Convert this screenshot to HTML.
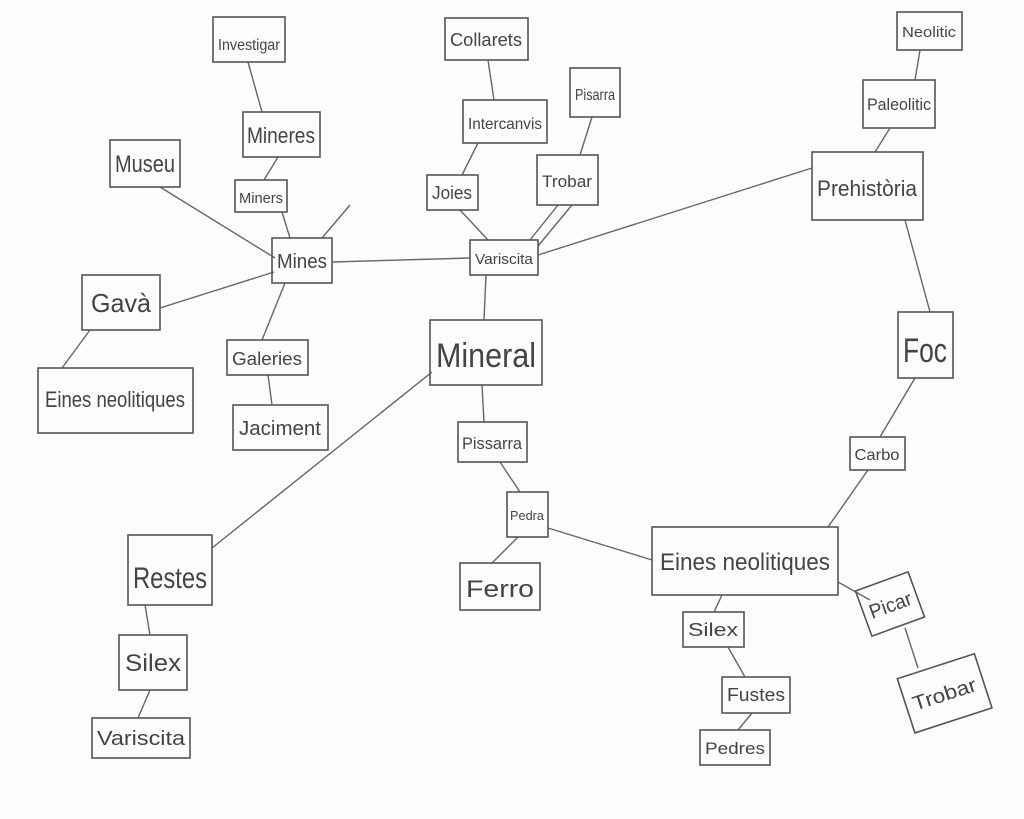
<!DOCTYPE html>
<html><head><meta charset="utf-8"><style>
html,body{margin:0;padding:0;background:#fff;}
svg{display:block;}
text{font-family:"Liberation Sans Narrow","Liberation Sans",sans-serif;fill:#444;}
rect{fill:none;stroke:#555;stroke-width:1.6;}
line{stroke:#666;stroke-width:1.4;}
</style></head><body>
<svg width="1024" height="819" viewBox="0 0 1024 819">
<rect x="0" y="0" width="1024" height="819" style="fill:#fcfcfc;stroke:none"/>
<line x1="248" y1="62" x2="262" y2="112"/>
<line x1="278" y1="157" x2="264" y2="180"/>
<line x1="282" y1="212" x2="290" y2="238"/>
<line x1="160" y1="187" x2="275" y2="258"/>
<line x1="322" y1="238" x2="350" y2="205"/>
<line x1="160" y1="308" x2="274" y2="272"/>
<line x1="90" y1="330" x2="62" y2="368"/>
<line x1="285" y1="283" x2="262" y2="340"/>
<line x1="268" y1="375" x2="272" y2="405"/>
<line x1="332" y1="262" x2="470" y2="258"/>
<line x1="488" y1="60" x2="494" y2="100"/>
<line x1="478" y1="143" x2="462" y2="175"/>
<line x1="460" y1="210" x2="488" y2="240"/>
<line x1="592" y1="117" x2="580" y2="155"/>
<line x1="558" y1="205" x2="530" y2="240"/>
<line x1="572" y1="205" x2="538" y2="246"/>
<line x1="538" y1="255" x2="812" y2="168"/>
<line x1="486" y1="275" x2="484" y2="320"/>
<line x1="432" y1="372" x2="212" y2="548"/>
<line x1="482" y1="385" x2="484" y2="422"/>
<line x1="500" y1="462" x2="520" y2="492"/>
<line x1="518" y1="537" x2="492" y2="563"/>
<line x1="548" y1="528" x2="652" y2="560"/>
<line x1="828" y1="527" x2="868" y2="470"/>
<line x1="880" y1="437" x2="915" y2="378"/>
<line x1="930" y1="312" x2="905" y2="220"/>
<line x1="875" y1="152" x2="890" y2="128"/>
<line x1="915" y1="80" x2="920" y2="50"/>
<line x1="722" y1="595" x2="714" y2="612"/>
<line x1="728" y1="647" x2="745" y2="677"/>
<line x1="752" y1="713" x2="738" y2="730"/>
<line x1="838" y1="582" x2="870" y2="600"/>
<line x1="905" y1="628" x2="918" y2="668"/>
<line x1="145" y1="605" x2="150" y2="635"/>
<line x1="150" y1="690" x2="138" y2="718"/>
<rect x="213" y="17" width="72" height="45"/>
<rect x="243" y="112" width="77" height="45"/>
<rect x="235" y="180" width="52" height="32"/>
<rect x="110" y="140" width="70" height="47"/>
<rect x="272" y="238" width="60" height="45"/>
<rect x="82" y="275" width="78" height="55"/>
<rect x="38" y="368" width="155" height="65"/>
<rect x="227" y="340" width="81" height="35"/>
<rect x="233" y="405" width="95" height="45"/>
<rect x="445" y="18" width="83" height="42"/>
<rect x="463" y="100" width="84" height="43"/>
<rect x="570" y="68" width="50" height="49"/>
<rect x="427" y="175" width="51" height="35"/>
<rect x="537" y="155" width="61" height="50"/>
<rect x="470" y="240" width="68" height="35"/>
<rect x="430" y="320" width="112" height="65"/>
<rect x="458" y="422" width="69" height="40"/>
<rect x="507" y="492" width="41" height="45"/>
<rect x="460" y="563" width="80" height="47"/>
<rect x="652" y="527" width="186" height="68"/>
<rect x="683" y="612" width="61" height="35"/>
<rect x="722" y="677" width="68" height="36"/>
<rect x="700" y="730" width="70" height="35"/>
<rect x="862" y="580" width="56" height="48" transform="rotate(-20 890 604)"/>
<rect x="904" y="665" width="81" height="57" transform="rotate(-18 944 693)"/>
<rect x="850" y="437" width="55" height="33"/>
<rect x="898" y="312" width="55" height="66"/>
<rect x="812" y="152" width="111" height="68"/>
<rect x="863" y="80" width="72" height="48"/>
<rect x="897" y="12" width="65" height="38"/>
<rect x="128" y="535" width="84" height="70"/>
<rect x="119" y="635" width="68" height="55"/>
<rect x="92" y="718" width="98" height="40"/>
<g text-anchor="middle" lengthAdjust="spacingAndGlyphs">
<text x="249" y="50" font-size="16" textLength="62" lengthAdjust="spacingAndGlyphs">Investigar</text>
<text x="281" y="143" font-size="22" textLength="68" lengthAdjust="spacingAndGlyphs">Mineres</text>
<text x="261" y="203" font-size="15" textLength="44" lengthAdjust="spacingAndGlyphs">Miners</text>
<text x="145" y="172" font-size="24" textLength="60" lengthAdjust="spacingAndGlyphs">Museu</text>
<text x="302" y="268" font-size="20" textLength="50" lengthAdjust="spacingAndGlyphs">Mines</text>
<text x="121" y="312" font-size="26" textLength="60" lengthAdjust="spacingAndGlyphs">Gavà</text>
<text x="115" y="407" font-size="22" textLength="140" lengthAdjust="spacingAndGlyphs">Eines neolitiques</text>
<text x="267" y="365" font-size="18" textLength="70" lengthAdjust="spacingAndGlyphs">Galeries</text>
<text x="280" y="435" font-size="20" textLength="82" lengthAdjust="spacingAndGlyphs">Jaciment</text>
<text x="486" y="46" font-size="18" textLength="72" lengthAdjust="spacingAndGlyphs">Collarets</text>
<text x="505" y="129" font-size="16" textLength="74" lengthAdjust="spacingAndGlyphs">Intercanvis</text>
<text x="595" y="100" font-size="16" textLength="40" lengthAdjust="spacingAndGlyphs">Pisarra</text>
<text x="452" y="199" font-size="18" textLength="40" lengthAdjust="spacingAndGlyphs">Joies</text>
<text x="567" y="187" font-size="17" textLength="50" lengthAdjust="spacingAndGlyphs">Trobar</text>
<text x="504" y="264" font-size="15" textLength="58" lengthAdjust="spacingAndGlyphs">Variscita</text>
<text x="486" y="367" font-size="34" textLength="100" lengthAdjust="spacingAndGlyphs">Mineral</text>
<text x="492" y="449" font-size="17" textLength="60" lengthAdjust="spacingAndGlyphs">Pissarra</text>
<text x="527" y="520" font-size="13" textLength="34" lengthAdjust="spacingAndGlyphs">Pedra</text>
<text x="500" y="597" font-size="24" textLength="68" lengthAdjust="spacingAndGlyphs">Ferro</text>
<text x="745" y="570" font-size="24" textLength="170" lengthAdjust="spacingAndGlyphs">Eines neolitiques</text>
<text x="713" y="636" font-size="18" textLength="50" lengthAdjust="spacingAndGlyphs">Silex</text>
<text x="756" y="701" font-size="18" textLength="58" lengthAdjust="spacingAndGlyphs">Fustes</text>
<text x="735" y="754" font-size="17" textLength="60" lengthAdjust="spacingAndGlyphs">Pedres</text>
<text x="890" y="612" font-size="20" transform="rotate(-20 890 604)" textLength="44" lengthAdjust="spacingAndGlyphs">Picar</text>
<text x="944" y="701" font-size="20" transform="rotate(-18 944 693)" textLength="66" lengthAdjust="spacingAndGlyphs">Trobar</text>
<text x="877" y="460" font-size="16" textLength="45" lengthAdjust="spacingAndGlyphs">Carbo</text>
<text x="925" y="362" font-size="34" textLength="44" lengthAdjust="spacingAndGlyphs">Foc</text>
<text x="867" y="196" font-size="22" textLength="100" lengthAdjust="spacingAndGlyphs">Prehistòria</text>
<text x="899" y="110" font-size="17" textLength="64" lengthAdjust="spacingAndGlyphs">Paleolitic</text>
<text x="929" y="37" font-size="15" textLength="54" lengthAdjust="spacingAndGlyphs">Neolitic</text>
<text x="170" y="588" font-size="30" textLength="74" lengthAdjust="spacingAndGlyphs">Restes</text>
<text x="153" y="671" font-size="24" textLength="56" lengthAdjust="spacingAndGlyphs">Silex</text>
<text x="141" y="745" font-size="20" textLength="88" lengthAdjust="spacingAndGlyphs">Variscita</text>
</g>
</svg>
</body></html>
